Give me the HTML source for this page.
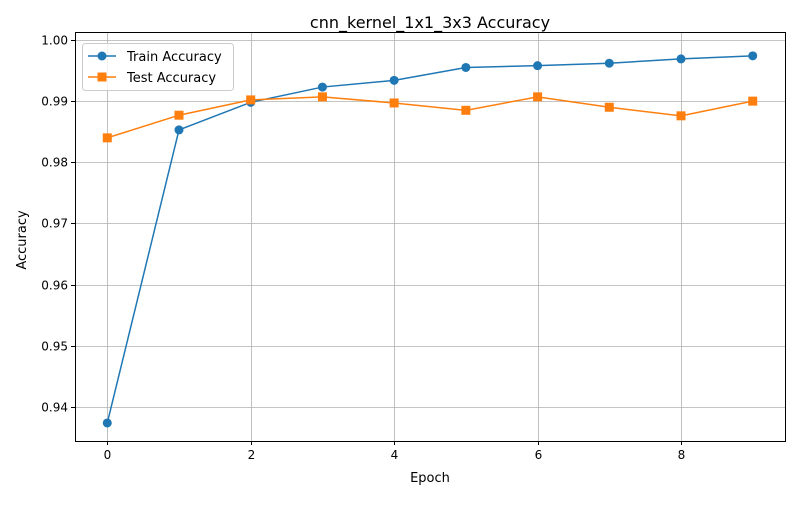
<!DOCTYPE html>
<html><head><meta charset="utf-8"><style>
body{margin:0;background:#fff;font-family:"Liberation Sans","DejaVu Sans",sans-serif;}
svg text{font-family:"DejaVu Sans","Liberation Sans",sans-serif;}
</style></head><body>
<svg id="chart" width="800" height="500" xmlns="http://www.w3.org/2000/svg">
<rect width="800" height="500" fill="#fff"/>
<text x="430" y="482" text-anchor="middle" font-size="13">Epoch</text>
<text x="26" y="240" text-anchor="middle" font-size="13" transform="rotate(-90 26 240)">Accuracy</text>
<g id="grid"></g><g id="axes"></g><g id="series"></g>
<rect x="75.5" y="32.5" width="710" height="409" fill="none" stroke="#000" stroke-width="1"/>
<g>
<rect x="82.5" y="43.5" width="151" height="47" rx="3" fill="#fff" fill-opacity="0.8" stroke="#ccc"/>
<g>
<line x1="88" y1="56" x2="116" y2="56" stroke="#1f77b4" stroke-width="1.5"/><circle cx="102" cy="56" r="4.5" fill="#1f77b4"/>
<text x="127" y="61" font-size="13">Train Accuracy</text></g>
<g>
<line x1="88" y1="77" x2="116" y2="77" stroke="#ff7f0e" stroke-width="1.5"/><rect x="97.5" y="72.5" width="9" height="9" fill="#ff7f0e"/>
<text x="127" y="82" font-size="13">Test Accuracy</text></g>
</g>
<text x="430" y="28" text-anchor="middle" font-size="16">cnn_kernel_1x1_3x3 Accuracy</text>
</svg>
<script>
const epochs=[0,1,2,3,4,5,6,7,8,9];
const trainAcc=[0.9374,0.9853,0.9898,0.9923,0.9934,0.9955,0.9958,0.9962,0.9969,0.9974];
const testAcc=[0.9840,0.9877,0.9902,0.9907,0.9897,0.9885,0.9907,0.9890,0.9876,0.9900];
const xTicks=[0,2,4,6,8];
const yTicks=[0.94,0.95,0.96,0.97,0.98,0.99,1.00];
const NS="http://www.w3.org/2000/svg";
const X0=75,X1=785,Y0=441,Y1=32,xmin=-0.45,xmax=9.45,ymin=0.93445,ymax=1.0013;
function sx(v){return X0+(v-xmin)/(xmax-xmin)*(X1-X0);}
function sy(v){return Y0-(v-ymin)/(ymax-ymin)*(Y0-Y1);}
function mk(t,a,p){const e=document.createElementNS(NS,t);for(const k in a)e.setAttribute(k,a[k]);p.appendChild(e);return e;}
const grid=document.getElementById('grid'),axes=document.getElementById('axes'),ser=document.getElementById('series');
xTicks.forEach(t=>{const x=Math.round(sx(t))+0.5;
const g=mk('line',{x1:x,x2:x,y1:Y1,y2:Y0,stroke:'#b0b0b0','stroke-width':0.8},grid);


mk('line',{x1:x,x2:x,y1:Y0,y2:Y0+4,stroke:'#000'},axes);
const l=mk('text',{x:x,y:Y0+18,'text-anchor':'middle','font-size':12},axes);l.textContent=t;

});
yTicks.forEach(t=>{const y=Math.round(sy(t))+0.5;
const g=mk('line',{x1:X0,x2:X1,y1:y,y2:y,stroke:'#b0b0b0','stroke-width':0.8},grid);


mk('line',{x1:X0-4,x2:X0,y1:y,y2:y,stroke:'#000'},axes);
const l=mk('text',{x:X0-7,y:y+4,'text-anchor':'end','font-size':12},axes);l.textContent=t.toFixed(2);

});
function draw(vals,color,shape,name){
const pl=mk('polyline',{points:vals.map((v,i)=>sx(epochs[i])+','+sy(v)).join(' '),fill:'none',stroke:color,'stroke-width':1.5},ser);


vals.forEach((v,i)=>{let m;const x=sx(epochs[i]),y=sy(v);
if(shape==='c')m=mk('circle',{cx:x,cy:y,r:4.5,fill:color},ser);
else m=mk('rect',{x:x-4.5,y:y-4.5,width:9,height:9,fill:color},ser);

});}
draw(trainAcc,'#1f77b4','c','train-accuracy');
draw(testAcc,'#ff7f0e','s','test-accuracy');
</script>
</body></html>
